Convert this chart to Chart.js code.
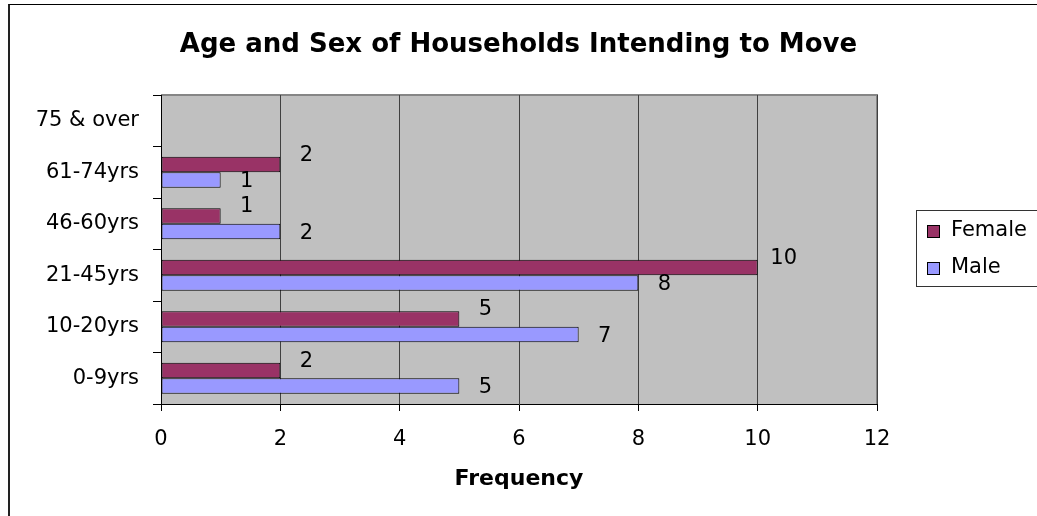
<!DOCTYPE html>
<html>
<head>
<meta charset="utf-8">
<script src="https://cdn.jsdelivr.net/npm/chart.js@4.4.0/dist/chart.umd.min.js"></script>
<style>
  body { margin: 0; background: #fff; }
  #wrap { position: relative; width: 1037px; height: 516px; overflow: hidden; }
  #frame { position: absolute; left: 8px; top: 4px; width: 1100px; height: 600px;
           border-left: 2px solid #222; border-top: 1px solid #000; pointer-events: none; }
</style>
</head>
<body>
<div id="wrap">
  <canvas id="myChart" width="1037" height="516"></canvas>
  <div id="frame"></div>
</div>
<script>
var age_labels = ["0-9yrs", "10-20yrs", "21-45yrs", "46-60yrs", "61-74yrs", "75 & over"];
var female_values = [2, 5, 10, 1, 2, null];
var male_values = [5, 7, 8, 2, 1, null];
var x_ticks = [0, 2, 4, 6, 8, 10, 12];
var chart_title = 'Age and Sex of Households Intending to Move';

var FONT = "'DejaVu Sans', 'Liberation Sans', Arial, sans-serif";

// grey plot background + top/right border
var plotBack = {
	id: 'plotBack',
	beforeDraw: function(chart) {
		var a = chart.chartArea, ctx = chart.ctx;
		ctx.save();
		ctx.fillStyle = '#C0C0C0';
		ctx.fillRect(a.left, a.top, a.right - a.left, a.bottom - a.top);
		ctx.strokeStyle = '#868686';
		ctx.lineWidth = 2;
		ctx.beginPath();
		ctx.moveTo(a.left, a.top);
		ctx.lineTo(a.right, a.top);
		ctx.lineTo(a.right, a.bottom);
		ctx.stroke();
		ctx.restore();
	}
};

// title centred over the whole picture, not the plot
var pageTitle = {
	id: 'pageTitle',
	afterDraw: function(chart) {
		var ctx = chart.ctx;
		ctx.save();
		ctx.font = 'bold 26px ' + FONT;
		ctx.fillStyle = '#000';
		ctx.textAlign = 'center';
		ctx.textBaseline = 'middle';
		ctx.fillText(chart_title, chart.width / 2, 45);
		ctx.restore();
	}
};

// value labels next to the bars
var barLabels = {
	id: 'barLabels',
	afterDatasetsDraw: function(chart) {
		var ctx = chart.ctx;
		var shift = [-9, 2];
		ctx.save();
		ctx.font = '21px ' + FONT;
		ctx.fillStyle = '#000';
		ctx.textAlign = 'center';
		ctx.textBaseline = 'middle';
		chart.data.datasets.forEach(function(ds, i) {
			chart.getDatasetMeta(i).data.forEach(function(bar, j) {
				var v = ds.data[j];
				if (v === null) return;
				ctx.fillText(String(v), bar.x + 26, bar.y + shift[i]);
			});
		});
		ctx.restore();
	}
};

// boxed legend on the right
var boxLegend = {
	id: 'boxLegend',
	afterDraw: function(chart) {
		var ctx = chart.ctx;
		ctx.save();
		ctx.strokeStyle = '#333';
		ctx.lineWidth = 1;
		ctx.strokeRect(916.5, 210.5, 140, 76);
		ctx.font = '21px ' + FONT;
		ctx.textBaseline = 'middle';
		ctx.textAlign = 'left';
		chart.data.datasets.forEach(function(ds, i) {
			var y = 231 + i * 37;
			ctx.fillStyle = ds.backgroundColor;
			ctx.fillRect(927, y - 6, 12, 12);
			ctx.strokeStyle = '#000';
			ctx.strokeRect(927.5, y - 5.5, 12, 12);
			ctx.fillStyle = '#000';
			ctx.fillText(ds.label, 951, y);
		});
		ctx.restore();
	}
};

window.onload = function() {
	var ctx = document.getElementById('myChart').getContext('2d');

	var chart = new Chart(ctx, {
		type: 'bar',
		data: {
			labels: age_labels,
			datasets: [{
				label: "Female",
				data: female_values,
				backgroundColor: '#993366',
				borderColor: '#000',
				borderWidth: 1,
				borderSkipped: false
			}, {
				label: "Male",
				data: male_values,
				backgroundColor: '#9999FF',
				borderColor: '#000',
				borderWidth: 1,
				borderSkipped: false
			}]
		},
		options: {
			indexAxis: 'y',
			responsive: false,
			animation: false,
			devicePixelRatio: 1,
			layout: { padding: { left: 0, right: 160, top: 95, bottom: 0 } },
			datasets: { bar: { categoryPercentage: 0.6, barPercentage: 1.0 } },
			plugins: {
				legend: { display: false },
				tooltip: { enabled: false },
				title: { display: false }
			},
			scales: {
				x: {
					min: 0,
					max: 12,
					afterBuildTicks: function(scale) {
						scale.ticks = x_ticks.map(function(v) { return { value: v }; });
					},
					afterFit: function(scale) { scale.height = 112; },
					ticks: { color: '#000', padding: 16, font: { family: FONT, size: 21 } },
					grid: { color: '#404040', tickColor: '#000', tickLength: 7, lineWidth: 1 },
					border: { display: true, color: '#000', width: 1 },
					title: {
						display: true,
						text: 'Frequency',
						color: '#000',
						font: { family: FONT, size: 22, weight: 'bold' },
						padding: { top: 0, bottom: 24 }
					}
				},
				y: {
					reverse: true,
					afterFit: function(scale) { scale.width = 161; },
					ticks: { color: '#000', padding: 14, font: { family: FONT, size: 21 } },
					grid: { drawOnChartArea: false, offset: true, color: '#000', tickLength: 8 },
					border: { display: true, color: '#000', width: 1 }
				}
			}
		},
		plugins: [plotBack, barLabels, boxLegend, pageTitle]
	});
};
</script>
</body>
</html>
